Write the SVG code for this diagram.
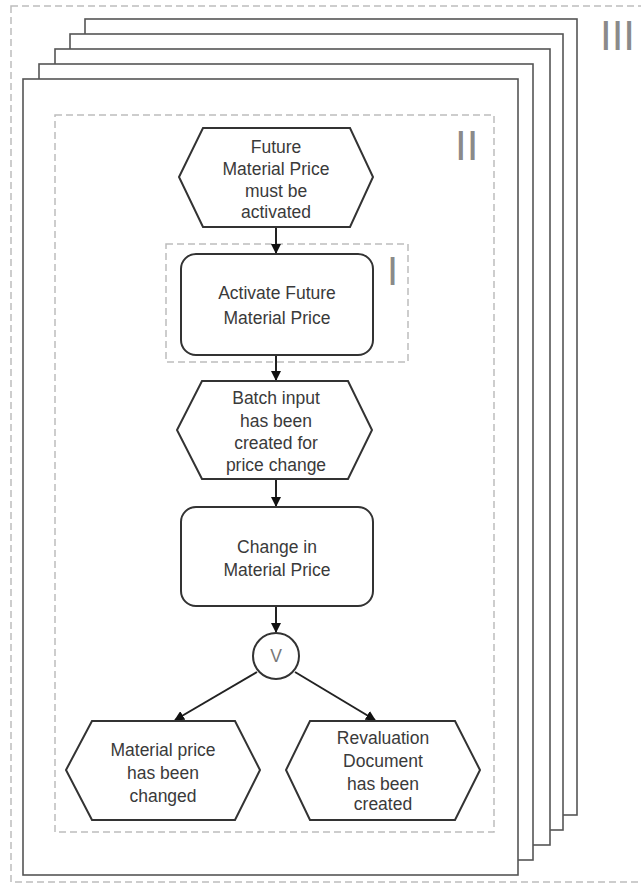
<svg xmlns="http://www.w3.org/2000/svg" width="641" height="883" viewBox="0 0 641 883">
<defs>
<style>
.bg{fill:#fff}
.dash{fill:none;stroke:#bdbdbd;stroke-width:1.5;stroke-dasharray:7 4}
.page{fill:#fff;stroke:#555;stroke-width:1.6}
.node{fill:#fff;stroke:#333;stroke-width:2}
.t{font-family:"Liberation Sans",Arial,sans-serif;font-size:17.5px;fill:#3a3a3a;text-anchor:middle}
.lbl{font-family:"Liberation Sans",Arial,sans-serif;font-size:42px;fill:#8a8a8a}
.edge{fill:none;stroke:#222;stroke-width:2}
</style>
<marker id="arr" viewBox="0 0 10 10" refX="9" refY="5" markerWidth="5" markerHeight="5" orient="auto" markerUnits="strokeWidth">
<path d="M0,0 L10,5 L0,10 z" fill="#111"/>
</marker>
</defs>
<rect class="bg" x="0" y="0" width="641" height="883"/>
<g id="frame-III">
<rect class="dash" x="11" y="6" width="640" height="876"/>
<text class="lbl" x="600" y="50">III</text>
</g>
<g id="pages">
<rect class="page" x="85" y="19" width="492" height="796"/>
<rect class="page" x="70" y="34" width="493" height="796"/>
<rect class="page" x="55" y="49" width="495" height="796"/>
<rect class="page" x="39" y="64" width="494" height="796"/>
<rect class="page" x="23" y="79" width="495" height="796"/>
</g>
<g id="frame-II">
<rect class="dash" x="55" y="115" width="439" height="717"/>
<text class="lbl" x="455" y="160">II</text>
</g>
<g id="frame-I">
<rect class="dash" x="166" y="244" width="242" height="118"/>
<text class="lbl" x="387" y="285" style="font-size:40px">I</text>
</g>
<g id="connectors">
<line class="edge" x1="276" y1="227" x2="276" y2="253" marker-end="url(#arr)"/>
<line class="edge" x1="276" y1="355" x2="276" y2="380" marker-end="url(#arr)"/>
<line class="edge" x1="276" y1="479" x2="276" y2="506" marker-end="url(#arr)"/>
<line class="edge" x1="276" y1="606" x2="276" y2="632" marker-end="url(#arr)"/>
<line class="edge" x1="257" y1="672" x2="175" y2="720" marker-end="url(#arr)"/>
<line class="edge" x1="295" y1="672" x2="375" y2="720" marker-end="url(#arr)"/>
</g>
<g id="ev-future">
<polygon class="node" points="203,128 350,128 373,177 350,227 203,227 179,177"/>
<text class="t" x="276" y="153">Future</text>
<text class="t" x="276" y="175">Material Price</text>
<text class="t" x="276" y="197">must be</text>
<text class="t" x="276" y="218">activated</text>
</g>
<g id="fn-activate">
<rect class="node" x="181" y="254" width="192" height="101" rx="15"/>
<text class="t" x="277" y="299">Activate Future</text>
<text class="t" x="277" y="324">Material Price</text>
</g>
<g id="ev-batch">
<polygon class="node" points="202,381 348,381 372,430 348,479 202,479 177,430"/>
<text class="t" x="276" y="404">Batch input</text>
<text class="t" x="276" y="427">has been</text>
<text class="t" x="276" y="449">created for</text>
<text class="t" x="276" y="471">price change</text>
</g>
<g id="fn-change">
<rect class="node" x="181" y="507" width="192" height="99" rx="15"/>
<text class="t" x="277" y="553">Change in</text>
<text class="t" x="277" y="576">Material Price</text>
</g>
<g id="op-or">
<circle class="node" cx="276" cy="656" r="23"/>
<text class="t" x="276" y="662" style="fill:#777">V</text>
</g>
<g id="ev-changed">
<polygon class="node" points="92,721 235,721 260,770 235,820 92,820 66,770"/>
<text class="t" x="163" y="756">Material price</text>
<text class="t" x="163" y="779">has been</text>
<text class="t" x="163" y="802">changed</text>
</g>
<g id="ev-revaluation">
<polygon class="node" points="310,721 455,721 480,770 455,820 310,820 286,770"/>
<text class="t" x="383" y="744">Revaluation</text>
<text class="t" x="383" y="767">Document</text>
<text class="t" x="383" y="790">has been</text>
<text class="t" x="383" y="810">created</text>
</g>
</svg>
